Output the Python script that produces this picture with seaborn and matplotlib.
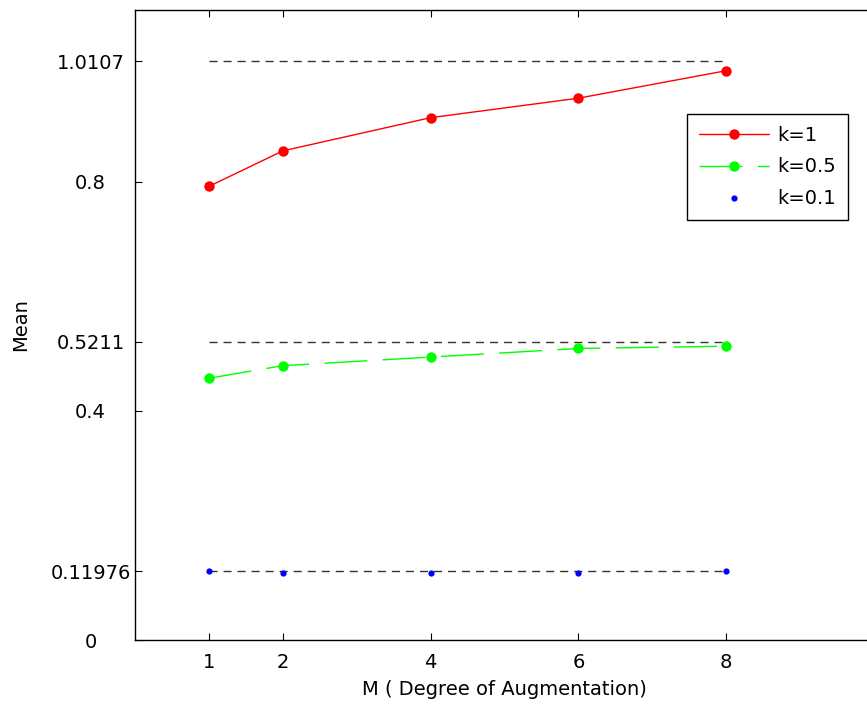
import numpy as np
import pandas as pd
import matplotlib
matplotlib.use("Agg")
import matplotlib.pyplot as plt
import seaborn as sns

# ---- data ----
M_values = [1, 2, 4, 6, 8]
mean_k1 = [0.792, 0.854, 0.912, 0.946, 0.994]
mean_k05 = [0.457, 0.479, 0.494, 0.509, 0.513]
mean_k01 = [0.120, 0.117, 0.117, 0.117, 0.120]
ref_levels = [1.0107, 0.5211, 0.11976]
series_labels = ["k=1", "k=0.5", "k=0.1"]
y_ticks = [0, 0.11976, 0.4, 0.5211, 0.8, 1.0107]
y_tick_labels = ["0", "0.11976", "0.4", "0.5211", "0.8", "1.0107"]
x_ticks = [1, 2, 4, 6, 8]
x_label = "M ( Degree of Augmentation)"
y_label = "Mean"

sns.set_style("ticks")
plt.rcParams["font.family"] = ["DejaVu Sans"]
plt.rcParams["text.color"] = "black"
plt.rcParams["axes.labelcolor"] = "black"

df = pd.DataFrame({"M": M_values, "k1": mean_k1, "k05": mean_k05, "k01": mean_k01})

fig = plt.figure(figsize=(8.67, 7.04), dpi=100)
fig.patch.set_facecolor("white")
ax = fig.add_axes([135 / 867, 64 / 704, 739 / 867, 630 / 704])
ax.set_facecolor("white")

# reference dashed lines
ax.hlines(ref_levels, xmin=min(M_values), xmax=max(M_values), colors="0.2",
          linestyles=(0, (5.8, 4.3)), linewidth=1.0, zorder=1)

sns.lineplot(data=df, x="M", y="k1", ax=ax, color="#ff0000", marker="o",
             markersize=7.5, markeredgecolor="#ff0000", markeredgewidth=0,
             linewidth=1.0, label=series_labels[0], errorbar=None, zorder=3)
sns.lineplot(data=df, x="M", y="k05", ax=ax, color="#00ff00", marker="o",
             markersize=7.5, markeredgecolor="#00ff00", markeredgewidth=0,
             linewidth=1.0, linestyle=(0, (31, 11)), label=series_labels[1],
             errorbar=None, zorder=3)
sns.lineplot(data=df, x="M", y="k01", ax=ax, color="#0000ff", marker="o",
             markersize=4.5, markeredgecolor="#0000ff", markeredgewidth=0,
             linestyle="none", label=series_labels[2], errorbar=None, zorder=3)

ax.set_xlim(0, 10)
ax.set_ylim(0, 1.1)
ax.set_xticks(x_ticks)
ax.set_xticklabels([str(v) for v in x_ticks])
ax.set_yticks(y_ticks)
ax.set_yticklabels(y_tick_labels)

for s in ax.spines.values():
    s.set_visible(True)
    s.set_color("black")
    s.set_linewidth(1.0)

ax.tick_params(axis="both", direction="in", length=5, width=0.8, colors="black",
               labelcolor="black", labelsize=14, top=True, right=True)
ax.tick_params(axis="x", pad=9)
ax.tick_params(axis="y", pad=32)
for lab in ax.get_yticklabels():
    lab.set_horizontalalignment("center")

ax.set_xlabel(x_label, fontsize=14, labelpad=6, color="black")
ax.set_ylabel(y_label, fontsize=14, color="black")
ax.yaxis.set_label_coords((30 - 135) / 739, 0.5)
ax.grid(False)

handles, labels = ax.get_legend_handles_labels()
leg = ax.legend(handles, labels, loc="upper left",
                bbox_to_anchor=(687 / 867, 1 - 114 / 704),
                bbox_transform=fig.transFigure, borderaxespad=0,
                fontsize=14, handlelength=3.6, handletextpad=0.45,
                labelspacing=0.66, borderpad=0.6, numpoints=1,
                fancybox=False, framealpha=1, edgecolor="black")
leg.get_frame().set_linewidth(1.0)
for t in leg.get_texts():
    t.set_color("black")

fig.savefig("out.png", dpi=100, facecolor="white")
